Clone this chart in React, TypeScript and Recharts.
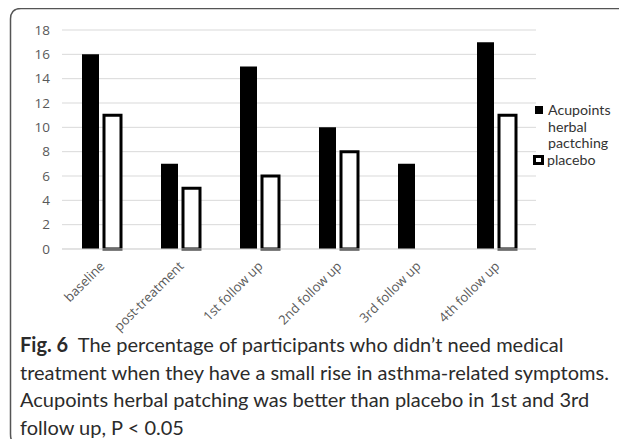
import { Bar, BarChart, CartesianGrid, Customized, Legend, XAxis, YAxis } from 'recharts'

const stages = [
  'baseline',
  'post-treatment',
  '1st follow up',
  '2nd follow up',
  '3rd follow up',
  '4th follow up',
]
const acupoints = [16, 7, 15, 10, 7, 17]
const placebo = [11, 5, 6, 8, 0, 11]
const yTicks = [0, 2, 4, 6, 8, 10, 12, 14, 16, 18]

const data = stages.map((stage, i) => ({
  stage,
  acupoints: acupoints[i],
  placebo: placebo[i],
}))

const axisFont = '"Open Sans", sans-serif'

function StageTick({ x, y, payload }: { x: number; y: number; payload: { value: string } }) {
  const tx = x + 4
  const ty = y + 18
  return (
    <text
      x={tx}
      y={ty}
      transform={`rotate(-45 ${tx} ${ty})`}
      textAnchor="end"
      fontSize={13}
      fontFamily={axisFont}
      fill="#595959"
    >
      {payload.value}
    </text>
  )
}

// rounded figure frame: top edge and left edge only
function FigureFrame() {
  return (
    <path
      d="M 627 8.5 L 21 8.5 Q 10.5 8.5 10.5 19 L 10.5 434 Q 10.5 444 18 446"
      fill="none"
      stroke="#555"
      strokeWidth={1.5}
    />
  )
}

function SeriesLegend() {
  const text = { fontFamily: 'Lato, sans-serif', fontSize: 14.2, lineHeight: '16.5px', color: '#333' }
  return (
    <div style={{ width: 90 }}>
      <div style={{ display: 'flex', alignItems: 'flex-start' }}>
        <span style={{ width: 8, height: 8, background: '#000', marginTop: 4, marginLeft: 2, marginRight: 5, flex: 'none' }} />
        <span style={{ ...text, width: 75 }}>Acupoints herbal pactching</span>
      </div>
      <div style={{ display: 'flex', alignItems: 'flex-start' }}>
        <span
          style={{
            width: 5,
            height: 4,
            border: '3px solid #000',
            background: '#fff',
            marginTop: 3,
            marginRight: 3,
            flex: 'none',
          }}
        />
        <span style={text}>placebo</span>
      </div>
    </div>
  )
}

export default function App() {
  return (
    <div
      style={{
        position: 'relative',
        margin: -8,
        width: 627,
        height: 447,
        background: '#fff',
        overflow: 'hidden',
      }}
    >
      <div style={{ position: 'absolute', left: 0, top: 0 }}>
        <BarChart
          width={627}
          height={447}
          data={data}
          margin={{ top: 30, right: 1, left: 22, bottom: 97 }}
          barGap={5}
        >
          <CartesianGrid vertical={false} stroke="#d9d9d9" />
          <XAxis
            dataKey="stage"
            height={101}
            interval={0}
            tickLine={false}
            tickSize={0}
            tickMargin={0}
            axisLine={{ stroke: '#d9d9d9' }}
            tick={StageTick}
          />
          <YAxis
            width={40}
            domain={[0, 18]}
            ticks={yTicks}
            axisLine={false}
            tickLine={false}
            tickSize={0}
            tickMargin={12}
            tick={{ fontSize: 13.5, fill: '#595959', fontFamily: axisFont }}
          />
          <Legend
            layout="vertical"
            align="right"
            verticalAlign="top"
            content={() => <SeriesLegend />}
            wrapperStyle={{ left: 533, top: 102, width: 90 }}
          />
          <Bar dataKey="acupoints" fill="#000" barSize={17} isAnimationActive={false} />
          <Bar
            dataKey="placebo"
            fill="#fff"
            stroke="#000"
            strokeWidth={3}
            barSize={17}
            isAnimationActive={false}
          />
          <Customized component={FigureFrame} />
        </BarChart>
      </div>
      <div
        style={{
          position: 'absolute',
          left: 20,
          top: 331,
          fontFamily: 'Lato, sans-serif',
          fontSize: 20,
          lineHeight: '27.5px',
          color: '#2b2b2b',
          whiteSpace: 'nowrap',
        }}
      >
        <b>Fig. 6</b>&nbsp; The percentage of participants who didn’t need medical
        <br />
        treatment when they have a small rise in asthma-related symptoms.
        <br />
        Acupoints herbal patching was better than placebo in 1st and 3rd
        <br />
        follow up, P &lt; 0.05
      </div>
    </div>
  )
}
